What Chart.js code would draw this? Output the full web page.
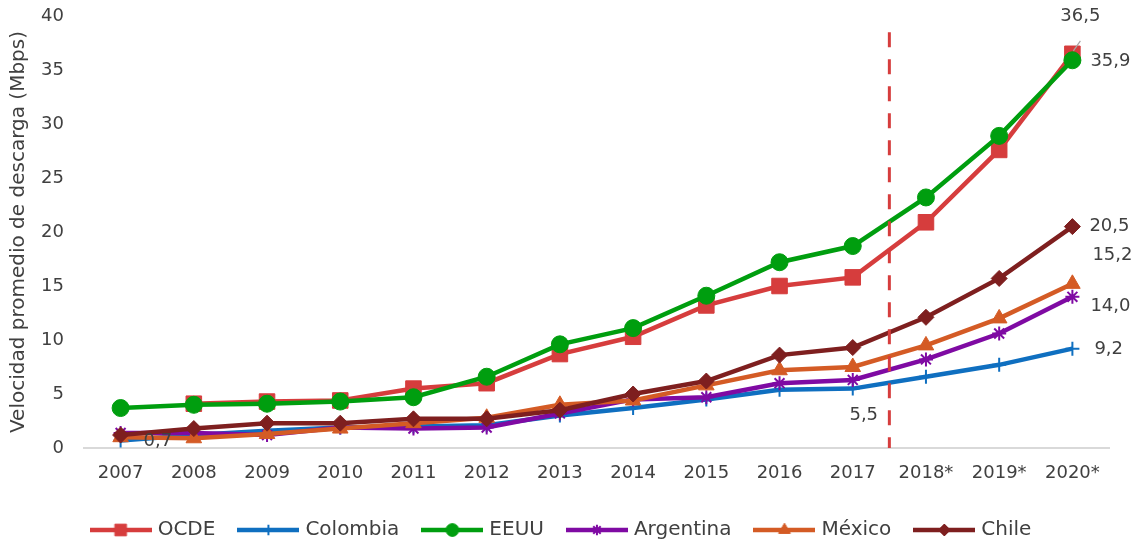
<!DOCTYPE html>
<html>
<head>
<meta charset="utf-8">
<script src="https://cdn.jsdelivr.net/npm/chart.js@4"></script>
<style>
  html, body { margin: 0; padding: 0; background: #fff; }
  #wrap { width: 1134px; height: 543px; }
</style>
</head>
<body>
<div id="wrap"><canvas id="chart"></canvas></div>
<script>
// --- data ---
const years = ["2007", "2008", "2009", "2010", "2011", "2012", "2013", "2014", "2015", "2016", "2017", "2018*", "2019*", "2020*"];
const ocde      = [null, 4.1, 4.3, 4.4, 5.5, 6.0, 8.7, 10.3, 13.2, 15.0, 15.8, 20.9, 27.6, 36.5];
const colombia  = [0.7, 1.2, 1.6, 1.9, 2.0, 2.1, 3.0, 3.7, 4.5, 5.4, 5.5, 6.6, 7.7, 9.2];
const eeuu      = [3.7, 4.0, 4.1, 4.3, 4.7, 6.6, 9.6, 11.1, 14.1, 17.2, 18.7, 23.2, 28.9, 35.9];
const argentina = [1.4, 1.4, 1.2, 1.9, 1.8, 1.9, 3.2, 4.5, 4.7, 6.0, 6.3, 8.2, 10.6, 14.0];
const mexico    = [1.0, 0.9, 1.3, 1.8, 2.3, 2.8, 4.0, 4.4, 5.8, 7.2, 7.5, 9.5, 12.0, 15.2];
const chile     = [1.2, 1.8, 2.3, 2.3, 2.7, 2.7, 3.5, 5.0, 6.2, 8.6, 9.3, 12.1, 15.7, 20.5];

const projectionStart = 10.5;   // between 2017 and 2018*
const FONT = "'DejaVu Sans ExtraLight', 'DejaVu Sans', sans-serif";
const TEXT = "#404040";

// series look: name, data, colour, marker, marker radius, draw order (lower = on top)
const series = [
  { name: "OCDE",      data: ocde,      color: "#d63d3d", style: "rect",     r: 11, order: 6, bw: 1 },
  { name: "Colombia",  data: colombia,  color: "#0f6fc0", style: "cross",    r: 7,  order: 5, bw: 2 },
  { name: "EEUU",      data: eeuu,      color: "#009e0f", style: "circle",   r: 8.5, order: 2, bw: 1 },
  { name: "Argentina", data: argentina, color: "#7f0aa3", style: "star",     r: 7,  order: 4, bw: 2 },
  { name: "México",    data: mexico,    color: "#d45b25", style: "triangle", r: 9,  order: 3, bw: 1 },
  { name: "Chile",     data: chile,     color: "#7e1f1f", style: "rectRot",  r: 8,  order: 1, bw: 1 }
];

// value labels: which series / point, offset from the point
const valueLabels = [
  { s: 1, i: 0,  dx: 23, dy: 1,   align: "left" },
  { s: 1, i: 10, dx: 11, dy: 27,  align: "center" },
  { s: 1, i: 13, dx: 22, dy: 1,   align: "left" },
  { s: 3, i: 13, dx: 18, dy: 10,  align: "left" },
  { s: 4, i: 13, dx: 20, dy: -29, align: "left" },
  { s: 5, i: 13, dx: 17, dy: 0,   align: "left" },
  { s: 2, i: 13, dx: 18, dy: 1,   align: "left" },
  { s: 0, i: 13, dx: 8,  dy: -37, align: "center", leader: true }
];

function fmt(v) { return v.toFixed(1).replace(".", ","); }

// legend swatch: line with the marker in the middle
const SW = 54;
function swatch(s) {
  const c = document.createElement("canvas");
  c.width = SW + 8; c.height = 18;
  const g = c.getContext("2d");
  g.strokeStyle = s.color;
  g.lineWidth = 4.5;
  g.beginPath(); g.moveTo(0, 9); g.lineTo(SW + 8, 9); g.stroke();
  g.fillStyle = s.color;
  g.lineWidth = s.bw;
  Chart.helpers.drawPoint(g, { pointStyle: s.style, radius: s.r * 0.75, rotation: 0, borderWidth: s.bw }, (SW + 8) / 2, 9);
  return c;
}

const projectionLine = {
  id: "projectionLine",
  afterDatasetsDraw(chart) {
    const { ctx, scales: { x, y } } = chart;
    const px = x.getPixelForValue(projectionStart);
    ctx.save();
    ctx.strokeStyle = "#d63d3d";
    ctx.lineWidth = 3;
    ctx.setLineDash([15, 12]);
    ctx.beginPath();
    ctx.moveTo(px, y.getPixelForValue(38.5));
    ctx.lineTo(px, y.getPixelForValue(0));
    ctx.stroke();
    ctx.restore();
  }
};

const pointLabels = {
  id: "pointLabels",
  afterDatasetsDraw(chart) {
    const { ctx } = chart;
    ctx.save();
    ctx.font = "18px " + FONT;
    ctx.fillStyle = TEXT;
    ctx.textBaseline = "middle";
    valueLabels.forEach(l => {
      const pt = chart.getDatasetMeta(l.s).data[l.i];
      const v = series[l.s].data[l.i];
      ctx.textAlign = l.align;
      ctx.fillText(fmt(v), pt.x + l.dx, pt.y + l.dy);
      if (l.leader) {
        ctx.strokeStyle = "#a6a6a6";
        ctx.lineWidth = 1.2;
        ctx.beginPath();
        ctx.moveTo(pt.x + 8, pt.y - 13);
        ctx.lineTo(pt.x + 1, pt.y - 3);
        ctx.stroke();
      }
    });
    ctx.restore();
  }
};

new Chart(document.getElementById("chart"), {
  type: "line",
  data: {
    labels: years,
    datasets: series.map(s => ({
      label: s.name,
      data: s.data,
      borderColor: s.color,
      backgroundColor: s.color,
      borderWidth: 4.5,
      pointStyle: s.style,
      pointRadius: s.r,
      pointBorderWidth: s.bw,
      pointBackgroundColor: s.color,
      pointBorderColor: s.color,
      order: s.order,
      tension: 0
    }))
  },
  options: {
    responsive: true,
    maintainAspectRatio: false,
    animation: false,
    layout: { padding: { top: 16, right: 25, left: 16, bottom: -7 } },
    plugins: {
      tooltip: { enabled: false },
      legend: {
        position: "bottom",
        labels: {
          usePointStyle: true,
          pointStyleWidth: SW,
          padding: 26,
          color: TEXT,
          font: { family: FONT, size: 20 },
          generateLabels: () => series.map((s, i) => ({
            text: s.name,
            pointStyle: swatch(s),
            fillStyle: s.color,
            strokeStyle: s.color,
            lineWidth: 0,
            fontColor: TEXT,
            datasetIndex: i,
            hidden: false
          }))
        }
      }
    },
    scales: {
      x: {
        offset: true,
        grid: { display: false, drawTicks: false },
        border: { color: "#d9d9d9", width: 2 },
        ticks: { color: TEXT, font: { family: FONT, size: 18 }, padding: 15, maxRotation: 0 },
        afterFit(scale) { scale.height = 46; }
      },
      y: {
        min: 0,
        max: 40,
        grid: { display: false, drawTicks: false },
        border: { display: false },
        ticks: { stepSize: 5, color: TEXT, font: { family: FONT, size: 18 }, padding: 20 },
        title: {
          display: true,
          text: "Velocidad promedio de descarga (Mbps)",
          color: TEXT,
          font: { family: FONT, size: 20 },
          padding: { top: -9, bottom: 0 }
        },
        afterFit(scale) {
          scale.width = 68;
          scale.paddingTop = 11;
          scale.paddingBottom = 11;
        }
      }
    }
  },
  plugins: [projectionLine, pointLabels]
});
</script>
</body>
</html>
